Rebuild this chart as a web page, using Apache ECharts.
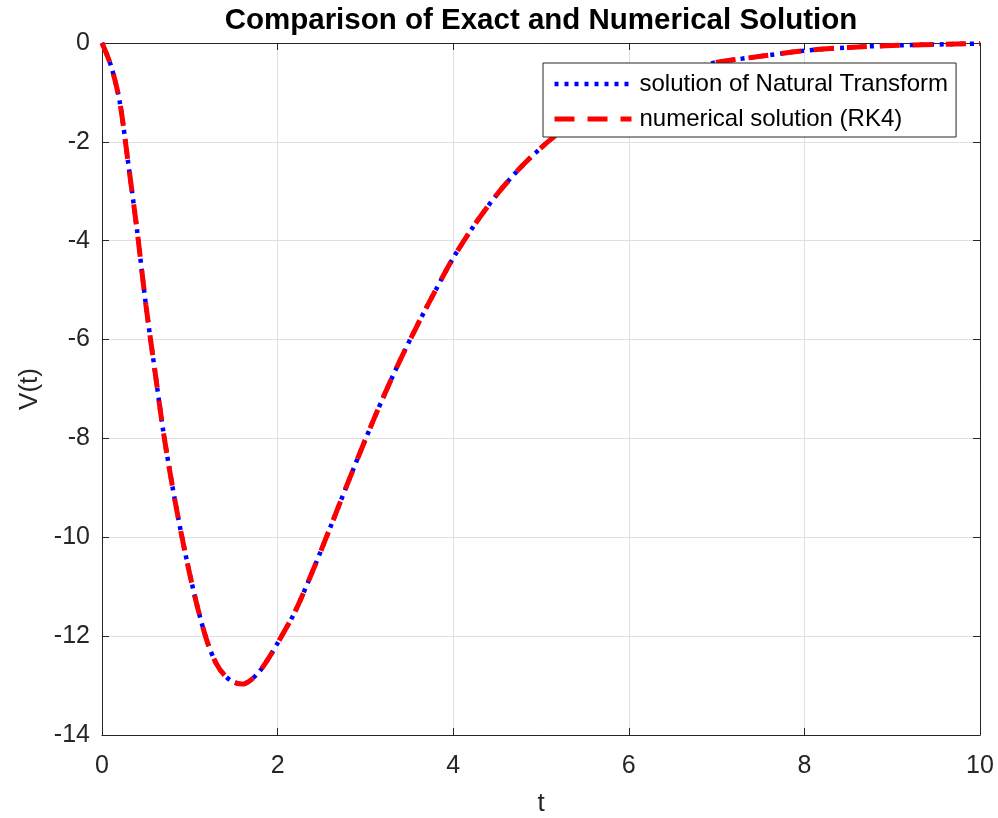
<!DOCTYPE html>
<html>
<head>
<meta charset="utf-8">
<script src="https://cdn.jsdelivr.net/npm/echarts@6/dist/echarts.min.js"></script>
<style>html,body{margin:0;padding:0;background:#fff;}#c{width:998px;height:818px;}</style>
</head>
<body>
<div id="c"></div>
<script>
// Values
const tValues = [0, 0.1, 0.2, 0.3, 0.4, 0.5, 0.6, 0.7, 0.8, 0.9, 1.0, 1.1, 1.2, 1.3, 1.4, 1.5, 1.6, 1.7, 1.8, 1.9, 2.0, 2.2, 2.4, 2.6, 2.8, 3.0, 3.2, 3.4, 3.6, 3.8, 4.0, 4.25, 4.5, 4.75, 5.0, 5.25, 5.5, 5.75, 6.0, 6.25, 6.5, 6.75, 7.0, 7.5, 8.0, 8.5, 9.0, 9.5, 10.0];
const exactV = [0, -0.45, -1.17, -2.45, -3.8, -5.3, -6.6, -7.88, -8.95, -9.9, -10.75, -11.5, -12.12, -12.55, -12.8, -12.93, -12.97, -12.88, -12.7, -12.44, -12.14, -11.5, -10.68, -9.8, -8.9, -8.02, -7.18, -6.4, -5.68, -5.0, -4.35, -3.66, -3.06, -2.55, -2.12, -1.75, -1.43, -1.17, -0.95, -0.77, -0.62, -0.5, -0.39, -0.27, -0.155, -0.09, -0.05, -0.03, -0.01];
const rk4V = [0, -0.45, -1.17, -2.45, -3.8, -5.3, -6.6, -7.88, -8.95, -9.9, -10.75, -11.5, -12.12, -12.55, -12.8, -12.93, -12.97, -12.88, -12.7, -12.44, -12.14, -11.5, -10.68, -9.8, -8.9, -8.02, -7.18, -6.4, -5.68, -5.0, -4.35, -3.66, -3.06, -2.55, -2.12, -1.75, -1.43, -1.17, -0.95, -0.77, -0.62, -0.5, -0.39, -0.27, -0.155, -0.09, -0.05, -0.03, -0.01];
const xTicks = [0, 2, 4, 6, 8, 10];
const yTicks = [-14, -12, -10, -8, -6, -4, -2, 0];
const seriesNames = ['solution of Natural Transform', 'numerical solution (RK4)'];
const titleText = 'Comparison of Exact and Numerical Solution';

const FONT = '"Liberation Sans", Arial, sans-serif';
const AX = '#262626';
const pairs = (xs, ys) => xs.map((x, i) => [x, ys[i]]);
const blueStyle = {color: '#0000ff', width: 4.5, type: [4, 6], cap: 'butt'};
const redStyle = {color: '#ff0000', width: 5, type: [20, 13], cap: 'butt'};

const chart = echarts.init(document.getElementById('c'), null, {renderer: 'canvas'});
const baseX = {
  type: 'value', min: xTicks[0], max: xTicks[xTicks.length - 1], interval: 2,
  axisLine: {show: true, onZero: false, lineStyle: {color: AX, width: 1}},
  axisTick: {show: true, inside: true, length: 7, lineStyle: {color: AX}},
};
const baseY = {
  type: 'value', min: yTicks[0], max: yTicks[yTicks.length - 1], interval: 2,
  axisLine: {show: true, onZero: false, lineStyle: {color: AX, width: 1}},
  axisTick: {show: true, inside: true, length: 7, lineStyle: {color: AX}},
};
chart.setOption({
  animation: false,
  backgroundColor: '#fff',
  title: {
    text: titleText, left: 536, top: 1, textAlign: 'center',
    textStyle: {fontFamily: FONT, fontWeight: 'bold', fontSize: 29.5, color: '#000'}
  },
  grid: {left: 102, top: 43, right: 18, bottom: 83, containLabel: false, outerBoundsMode: 'none'},
  legend: {
    orient: 'vertical', left: 543, top: 63,
    padding: [9, 8, 6, 9], itemGap: 11, itemWidth: 77, itemHeight: 20,
    backgroundColor: '#fff', borderColor: AX, borderWidth: 1,
    itemStyle: {opacity: 0},
    textStyle: {fontFamily: FONT, fontSize: 24, lineHeight: 20, color: '#000', padding: [0, 0, 0, 3]},
    data: [
      {name: seriesNames[0], lineStyle: blueStyle},
      {name: seriesNames[1], lineStyle: redStyle}
    ]
  },
  xAxis: [
    Object.assign({}, baseX, {
      position: 'bottom', name: 't', nameLocation: 'middle', nameGap: 56,
      nameTextStyle: {fontFamily: FONT, fontSize: 26, color: AX},
      axisLabel: {show: true, margin: 19, fontFamily: FONT, fontSize: 25, color: AX},
      splitLine: {show: true, lineStyle: {color: '#e0e0e0', width: 1}}
    }),
    Object.assign({}, baseX, {position: 'top', axisLabel: {show: false}, splitLine: {show: false}})
  ],
  yAxis: [
    Object.assign({}, baseY, {
      position: 'left', name: 'V(t)', nameLocation: 'middle', nameGap: 58, nameRotate: 90,
      nameTextStyle: {fontFamily: FONT, fontSize: 26, color: AX},
      axisLabel: {show: true, margin: 12, fontFamily: FONT, fontSize: 25, color: AX},
      splitLine: {show: true, lineStyle: {color: '#e0e0e0', width: 1}}
    }),
    Object.assign({}, baseY, {position: 'right', axisLabel: {show: false}, splitLine: {show: false}})
  ],
  series: [
    {
      name: seriesNames[0], type: 'line', data: pairs(tValues, exactV),
      smooth: 0.3, showSymbol: false, symbol: 'none', z: 2,
      lineStyle: blueStyle, itemStyle: {color: '#0000ff'}
    },
    {
      name: seriesNames[1], type: 'line', data: pairs(tValues, rk4V),
      smooth: 0.3, showSymbol: false, symbol: 'none', z: 3,
      lineStyle: redStyle, itemStyle: {color: '#ff0000'}
    }
  ]
});
</script>
</body>
</html>
